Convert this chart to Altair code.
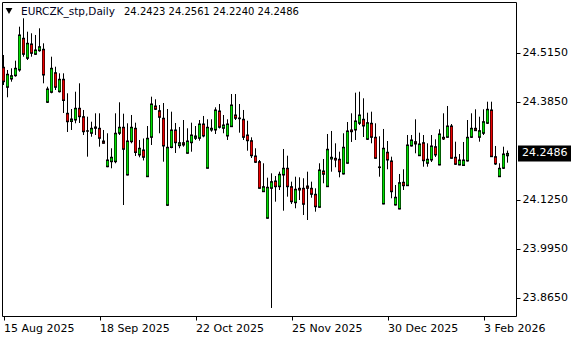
import altair as alt
import pandas as pd

# Daily candles EURCZK_stp, bar index 0 = 15 Aug 2025
opens = [24.4771, 24.4240, 24.4460, 24.4548, 24.4699, 24.5540, 24.5009, 24.5389, 24.5115, 24.5211,
         24.5248, 24.3842, 24.4107, 24.4627, 24.4123, 24.4452, 24.3550, 24.3333, 24.3372, 24.3683,
         24.3460, 24.3086, 24.3020, 24.3152, 24.3152, 24.2815, 24.2133, 24.2266, 24.2266, 24.3020,
         24.3179, 24.1913, 24.2797, 24.3152, 24.2444, 24.2577, 24.1868, 24.2913, 24.3744, 24.3619,
         24.3418, 24.1109, 24.2643, 24.3107, 24.2691, 24.2770, 24.2489, 24.2770, 24.2887, 24.2887,
         24.3266, 24.2091, 24.3107, 24.3107, 24.3611, 24.3152, 24.2948, 24.3195, 24.3505, 24.3407,
         24.3391, 24.2974, 24.2823, 24.2417, 24.2266, 24.1470, 24.0765, 24.1560, 24.1754, 24.1603,
         24.1913, 24.2091, 24.1603, 24.1178, 24.1560, 24.1560, 24.1621, 24.1560, 24.1401, 24.1056,
         24.2019, 24.1603, 24.2338, 24.2356, 24.2330, 24.1940, 24.2224, 24.3107, 24.3107, 24.3285,
         24.3391, 24.2860, 24.3285, 24.2913, 24.2126, 24.1144, 24.2516, 24.2285, 24.1117, 24.1011,
         24.1720, 24.1629, 24.2683, 24.2797, 24.2425, 24.2770, 24.2224, 24.2311, 24.2664, 24.2179,
         24.2913, 24.2913, 24.3213, 24.2383, 24.2179, 24.2165, 24.2285, 24.2913, 24.3152, 24.2913,
         24.3020, 24.3285, 24.3638, 24.2399, 24.1868, 24.2091, 24.2423]
highs = [24.5097, 24.4699, 24.4744, 24.4946, 24.5848, 24.6071, 24.5715, 24.5673, 24.5628, 24.5805,
         24.5407, 24.4256, 24.5052, 24.4786, 24.4611, 24.4611, 24.4081, 24.3664, 24.4123, 24.4346,
         24.3638, 24.3460, 24.3327, 24.3550, 24.3550, 24.3107, 24.3020, 24.2622, 24.3550, 24.3842,
         24.3540, 24.3285, 24.3505, 24.3301, 24.2842, 24.2882, 24.3213, 24.3991, 24.3922, 24.3770,
         24.3823, 24.3664, 24.3593, 24.3293, 24.3187, 24.3372, 24.3152, 24.3301, 24.3213, 24.3372,
         24.3479, 24.3391, 24.3391, 24.3709, 24.3797, 24.3505, 24.3391, 24.4062, 24.4062, 24.3797,
         24.3638, 24.3354, 24.2913, 24.2622, 24.2311, 24.2224, 24.1842, 24.1958, 24.1887, 24.2001,
         24.2603, 24.2425, 24.1736, 24.1868, 24.1852, 24.1826, 24.2001, 24.1736, 24.1560, 24.2224,
         24.2338, 24.3001, 24.3081, 24.2754, 24.2531, 24.3020, 24.3319, 24.3550, 24.4097, 24.4123,
         24.3948, 24.3566, 24.3593, 24.3285, 24.2940, 24.3134, 24.2815, 24.2399, 24.1648, 24.1940,
         24.2065, 24.2974, 24.2974, 24.3391, 24.3036, 24.2974, 24.2754, 24.2974, 24.2860, 24.3126,
         24.3550, 24.3744, 24.3266, 24.2797, 24.2470, 24.2789, 24.3372, 24.3550, 24.3656, 24.3460,
         24.3656, 24.3858, 24.3858, 24.2683, 24.2224, 24.2664, 24.2561]
lows = [24.4301, 24.3975, 24.4389, 24.4521, 24.4654, 24.5052, 24.4964, 24.5052, 24.5097, 24.5184,
        24.4346, 24.3823, 24.4081, 24.4168, 24.4102, 24.3558, 24.3054, 24.3107, 24.3285, 24.3293,
        24.2974, 24.2399, 24.2929, 24.2974, 24.2664, 24.2749, 24.2120, 24.2091, 24.2224, 24.2974,
        24.1117, 24.1900, 24.2754, 24.2417, 24.2383, 24.2298, 24.1860, 24.2709, 24.3638, 24.3020,
        24.2266, 24.1091, 24.2622, 24.2497, 24.2622, 24.2664, 24.2478, 24.2531, 24.2842, 24.2823,
        24.2913, 24.2086, 24.3062, 24.3001, 24.3147, 24.3020, 24.2842, 24.3187, 24.3372, 24.3036,
        24.2842, 24.2558, 24.2364, 24.2232, 24.1550, 24.1462, 24.0754, 23.8385, 24.1205, 24.1515,
        24.0966, 24.1338, 24.1144, 24.1030, 24.1250, 24.0852, 24.0719, 24.1311, 24.0940, 24.1046,
        24.1693, 24.1595, 24.2001, 24.2118, 24.1852, 24.1927, 24.2213, 24.2789, 24.2842, 24.3240,
        24.2921, 24.2842, 24.2754, 24.2346, 24.1868, 24.1136, 24.2065, 24.1295, 24.1104, 24.1003,
        24.1515, 24.1621, 24.2669, 24.2489, 24.2417, 24.2133, 24.2133, 24.2258, 24.2391, 24.2171,
        24.2842, 24.2903, 24.2346, 24.2179, 24.2171, 24.2152, 24.2271, 24.2895, 24.3081, 24.2797,
        24.2974, 24.3266, 24.2391, 24.2179, 24.1860, 24.2072, 24.2240]
closes = [24.4389, 24.4585, 24.4548, 24.4744, 24.5628, 24.5115, 24.5407, 24.5142, 24.5230, 24.5317,
          24.4566, 24.4195, 24.4744, 24.4240, 24.4452, 24.3890, 24.3327, 24.3399, 24.3683, 24.3460,
          24.3062, 24.3075, 24.3152, 24.3187, 24.2887, 24.2754, 24.2311, 24.2383, 24.3020, 24.3179,
          24.2595, 24.2815, 24.3179, 24.2510, 24.2622, 24.2383, 24.2887, 24.3797, 24.3656, 24.3444,
          24.2683, 24.2648, 24.3107, 24.2770, 24.2770, 24.2709, 24.2815, 24.2974, 24.2948, 24.3266,
          24.2948, 24.3179, 24.3152, 24.3638, 24.3179, 24.3240, 24.3266, 24.3770, 24.3418, 24.3425,
          24.2913, 24.2823, 24.2425, 24.2250, 24.1560, 24.1603, 24.1587, 24.1736, 24.1603, 24.1932,
          24.2091, 24.1603, 24.1205, 24.1534, 24.1515, 24.1136, 24.1560, 24.1401, 24.1072, 24.2046,
          24.1932, 24.2595, 24.2383, 24.2311, 24.2001, 24.2648, 24.3081, 24.3062, 24.3346, 24.3505,
          24.3213, 24.3301, 24.2913, 24.2356, 24.2110, 24.2622, 24.2311, 24.1470, 24.1322, 24.1709,
          24.1629, 24.2709, 24.2842, 24.2736, 24.2736, 24.2293, 24.2330, 24.2683, 24.2444, 24.3001,
          24.2868, 24.3213, 24.2356, 24.2197, 24.2311, 24.2311, 24.2913, 24.3152, 24.3089, 24.3089,
          24.3327, 24.3656, 24.2399, 24.2205, 24.2091, 24.2470, 24.2486]

tick_bars = [0, 24, 48, 72, 96, 120]
tick_labels = ["15 Aug 2025", "18 Sep 2025", "22 Oct 2025", "25 Nov 2025", "30 Dec 2025", "3 Feb 2026"]
price_ticks = [23.865, 23.995, 24.125, 24.385, 24.515]
title_name = "EURCZK_stp,Daily"
title_ohlc = "24.2423 24.2561 24.2240 24.2486"
last_price = [24.2486]

df = pd.DataFrame({"i": list(range(len(opens))), "open": opens, "high": highs,
                   "low": lows, "close": closes})
df["dir"] = ["up" if c >= o else "down" for o, c in zip(opens, closes)]
df["top"] = [max(o, c) for o, c in zip(opens, closes)]
df["bot"] = [min(o, c) for o, c in zip(opens, closes)]

label_expr = " : ".join(f"datum.value == {b} ? '{t}'" for b, t in zip(tick_bars, tick_labels)) + " : ''"

FONT = "DejaVu Sans"
xscale = alt.Scale(domain=[-0.375, 128.125], nice=False, zero=False, padding=0)
yscale = alt.Scale(domain=[23.8172, 24.6503], nice=False, zero=False, padding=0)

x_axis = alt.Axis(values=tick_bars, labelExpr=label_expr, title=None, grid=False,
                  domain=False, ticks=True, tickColor="black", tickSize=4,
                  labelAlign="left", labelFont=FONT, labelFontSize=11,
                  labelColor="black", labelPadding=2, labelOverlap=False,
                  labelFlush=False)
y_axis = alt.Axis(orient="right", values=price_ticks, format=".4f", title=None,
                  grid=False, domain=False, tickColor="black", tickSize=4,
                  labelFont=FONT, labelFontSize=11, labelColor="black",
                  labelPadding=2, labelBaseline="middle", labelOverlap=False,
                  labelFlush=False)

base = alt.Chart(df)

wicks = base.mark_rule(color="black", strokeWidth=1, clip=True).encode(
    x=alt.X("i:Q", scale=xscale, axis=x_axis),
    y=alt.Y("low:Q", scale=yscale, axis=y_axis),
    y2="high:Q",
)

# body: 3 px black stroke, then a coloured core on top
outline = base.mark_rule(color="black", strokeWidth=3, strokeCap="butt", clip=True,
                         yOffset=-0.5, y2Offset=0.5).encode(
    x=alt.X("i:Q", scale=xscale, axis=x_axis),
    y=alt.Y("top:Q", scale=yscale, axis=y_axis),
    y2="bot:Q",
)

core = base.transform_filter("datum.top - datum.bot > 0.0045").mark_rule(
    strokeWidth=1.8, strokeCap="butt", clip=True, yOffset=1, y2Offset=-1).encode(
    x=alt.X("i:Q", scale=xscale, axis=x_axis),
    y=alt.Y("top:Q", scale=yscale, axis=y_axis),
    y2="bot:Q",
    color=alt.Color("dir:N", scale=alt.Scale(domain=["up", "down"], range=["#00e000", "#ee0000"]),
                    legend=None),
)

lp = pd.DataFrame({"p": last_price, "txt": [f"{v:.4f}" for v in last_price]})
lp_box = alt.Chart(lp).mark_rect(color="black", yOffset=-8, y2Offset=8).encode(
    x=alt.value(516), x2=alt.value(569),
    y=alt.Y("p:Q", scale=yscale, axis=y_axis), y2="p:Q",
)
lp_txt = alt.Chart(lp).mark_text(color="white", font=FONT, fontSize=11, align="left",
                                 baseline="middle").encode(
    x=alt.value(520), y=alt.Y("p:Q", scale=yscale, axis=y_axis), text="txt:N",
)

hdr = pd.DataFrame({"name": [title_name], "ohlc": [title_ohlc]})
tri = alt.Chart(hdr).mark_point(shape="triangle-down", filled=True, color="black", size=45,
                                opacity=1).encode(x=alt.value(7), y=alt.value(9))
name_txt = alt.Chart(hdr).mark_text(font=FONT, fontSize=10.5, align="left", baseline="middle",
                                    color="#000020").encode(
    x=alt.value(19), y=alt.value(10), text="name:N")
ohlc_txt = alt.Chart(hdr).mark_text(font=FONT, fontSize=10, align="left", baseline="middle",
                                    color="black").encode(
    x=alt.value(122), y=alt.value(10), text="ohlc:N")

chart = alt.layer(wicks, outline, core, lp_box, lp_txt, tri, name_txt, ohlc_txt).properties(
    width=514, height=314,
    padding={"left": 2, "top": 2, "right": 64, "bottom": 24},
    autosize=alt.AutoSizeParams(type="none"),
    background="white",
).configure_view(stroke="black", strokeWidth=1)

chart.save("out.html", embed_options={"renderer": "svg", "actions": False})
